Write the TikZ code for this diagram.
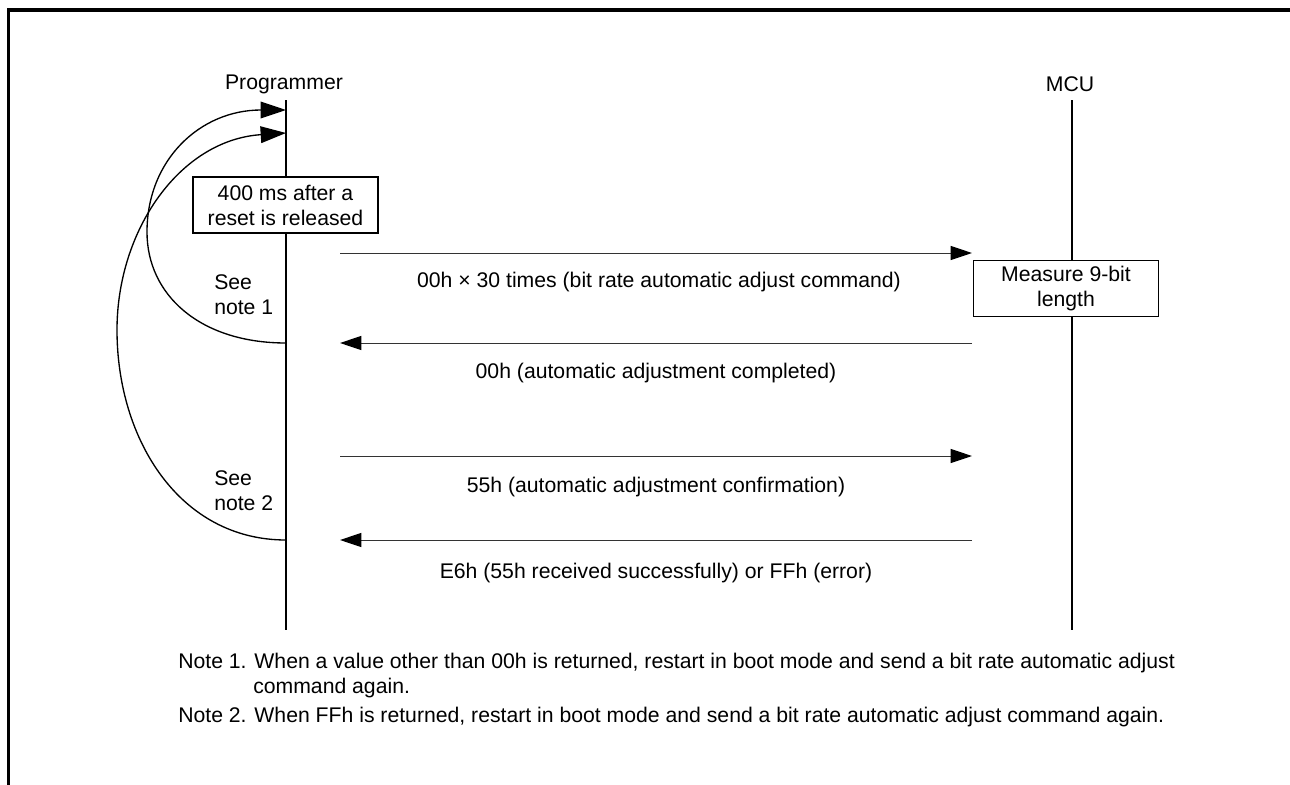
\documentclass[tikz,border=0pt]{standalone}
\usepackage{fontspec}
\setmainfont{Liberation Sans}
\usetikzlibrary{arrows.meta}
\begin{document}
\begin{tikzpicture}[x=0.75pt,y=-0.75pt,
  every node/.style={font=\fontsize{15.9}{18.75}\selectfont, inner sep=0pt},
  msg/.style={draw=black!80, line width=0.75pt, -{Triangle[length=16pt,width=10.5pt,color=black,fill=black]}},
  loopc/.style={draw=black, line width=1pt, -{Triangle[length=19pt,width=12.5pt]}},
  life/.style={draw=black, line width=1.1pt},
  boxn/.style={draw, fill=white, line width=1.1pt, minimum width=138.75pt, minimum height=42pt, align=center, inner sep=2pt},
  lbl/.style={anchor=center}]
\useasboundingbox (0,0) rectangle (1290,785);
\draw[line width=2.3pt] (8.5,785) -- (8.5,10) -- (1290,10);

% participants
\node (prog) at (284,84) {Programmer};
\node (mcu) at (1070,84) {MCU};
\coordinate (ptop) at (286,100);
\coordinate (pbot) at (286,630);
\coordinate (mtop) at (1072,100);
\coordinate (mbot) at (1072,630);
\draw[life] (ptop) -- (pbot);
\draw[life] (mtop) -- (mbot);

% boxes
\node[boxn] (wait) at (285.5,205) {400 ms after a\\reset is released};
\node[boxn] (meas) at (1066,288.5) {Measure 9-bit\\length};

% messages
\coordinate (m1s) at (340,253); \coordinate (m1e) at (972,253);
\coordinate (m2s) at (972,343); \coordinate (m2e) at (340,343);
\coordinate (m3s) at (340,456); \coordinate (m3e) at (972,456);
\coordinate (m4s) at (972,540); \coordinate (m4e) at (340,540);
\draw[msg] (m1s) -- (m1e);
\draw[msg] (m2s) -- (m2e);
\draw[msg] (m3s) -- (m3e);
\draw[msg] (m4s) -- (m4e);
\node[lbl] (l1) at (659,282) {00h × 30 times (bit rate automatic adjust command)};
\node[lbl] (l2) at (656,373) {00h (automatic adjustment completed)};
\node[lbl] (l3) at (656,487) {55h (automatic adjustment confirmation)};
\node[lbl] (l4) at (656,573) {E6h (55h received successfully) or FFh (error)};

% retry loops
\coordinate (c1s) at (286,343); \coordinate (c1e) at (286,110);
\coordinate (c2s) at (286,540); \coordinate (c2e) at (286,133);
\draw[loopc] (c1s) .. controls (200,343) and (147,295) .. (147,232)
                   .. controls (147,160) and (200,110) .. (c1e);
\draw[loopc] (c2s) .. controls (180,540) and (117,440) .. (117,330)
                   .. controls (117,230) and (180,140) .. (c2e);
\node[anchor=west, align=left] (see1) at (214,295) {See\\note 1};
\node[anchor=west, align=left] (see2) at (214,491) {See\\note 2};

% notes
\node[anchor=west] (note1) at (178,663) {Note 1. When a value other than 00h is returned, restart in boot mode and send a bit rate automatic adjust};
\node[anchor=west] (note1b) at (253,688) {command again.};
\node[anchor=west] (note2) at (178,717) {Note 2. When FFh is returned, restart in boot mode and send a bit rate automatic adjust command again.};
\end{tikzpicture}
\end{document}
